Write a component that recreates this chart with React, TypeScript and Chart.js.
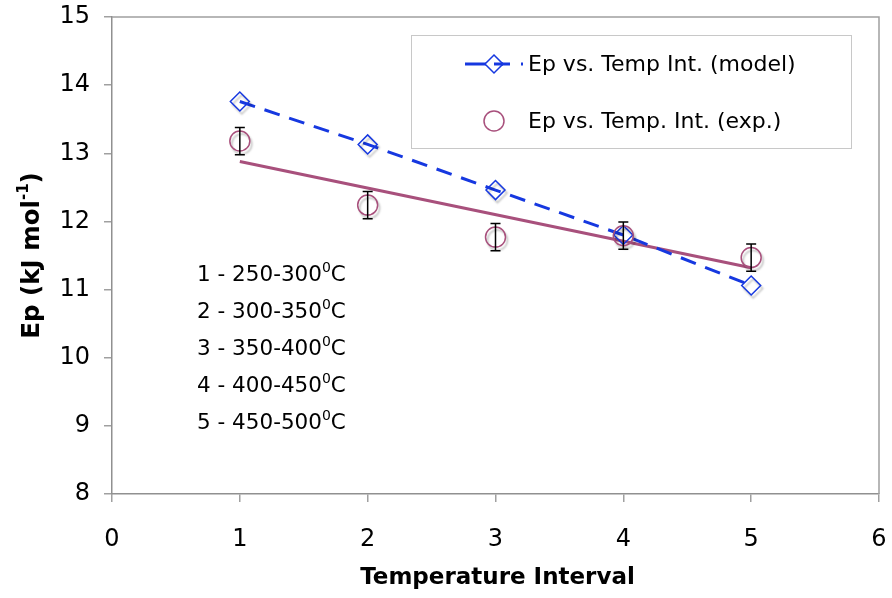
import React, { useEffect, useRef } from "react";
import { Chart, registerables } from "chart.js";

Chart.register(...registerables);

const intervals = [1, 2, 3, 4, 5];
const modelEp = [13.76, 13.13, 12.46, 11.8, 11.06];
const expEp = [13.18, 12.24, 11.77, 11.79, 11.47];
const expErr = [0.2, 0.2, 0.2, 0.2, 0.2];
const trendX = [1, 5];
const trendEp = [12.88, 11.32];
const intervalNotes = ["1 - 250-300", "2 - 300-350", "3 - 350-400", "4 - 400-450", "5 - 450-500"];
const legendLabels = ["Ep vs. Temp Int. (model)", "Ep vs. Temp. Int. (exp.)"];
const xTitle = "Temperature Interval";
const yTitleMain = "Ep (kJ mol";
const yTitleSup = "-1";

const BLUE = "#1638e0";
const MAUVE = "#a8507c";
const FONT = "'DejaVu Sans', Verdana, sans-serif";

const zeroPad = (s: any) => {
  s.paddingTop = 0;
  s.paddingBottom = 0;
  s.paddingLeft = 0;
  s.paddingRight = 0;
};

const decorPlugin = {
  id: "decor",
  beforeDatasetDraw(chart: any, args: any) {
    const ds = chart.data.datasets[args.index];
    if (ds._shadow) {
      const ctx = chart.ctx;
      ctx.save();
      ctx.shadowColor = "rgba(0,0,0,0.25)";
      ctx.shadowOffsetX = 2;
      ctx.shadowOffsetY = 3;
      ctx.shadowBlur = 2;
    }
  },
  afterDatasetDraw(chart: any, args: any) {
    const ds = chart.data.datasets[args.index];
    if (ds._shadow) chart.ctx.restore();
  },
  afterDatasetsDraw(chart: any) {
    const ctx = chart.ctx;
    const xs = chart.scales.x;
    const ys = chart.scales.y;
    ctx.save();
    ctx.strokeStyle = "#000";
    ctx.lineWidth = 1.5;
    intervals.forEach((xv, i) => {
      const px = xs.getPixelForValue(xv);
      const top = ys.getPixelForValue(expEp[i] + expErr[i]);
      const bot = ys.getPixelForValue(expEp[i] - expErr[i]);
      ctx.beginPath();
      ctx.moveTo(px, top);
      ctx.lineTo(px, bot);
      ctx.moveTo(px - 5, top);
      ctx.lineTo(px + 5, top);
      ctx.moveTo(px - 5, bot);
      ctx.lineTo(px + 5, bot);
      ctx.stroke();
    });
    ctx.restore();
  },
  afterDraw(chart: any) {
    const ctx = chart.ctx;
    const a = chart.chartArea;
    ctx.save();
    ctx.strokeStyle = "#a0a0a0";
    ctx.lineWidth = 1.5;
    ctx.beginPath();
    ctx.moveTo(a.left, a.top);
    ctx.lineTo(a.right, a.top);
    ctx.lineTo(a.right, a.bottom);
    ctx.stroke();

    const lx = 411, ly = 35, lw = 440, lh = 113;
    ctx.fillStyle = "#fff";
    ctx.fillRect(lx, ly, lw, lh);
    ctx.strokeStyle = "#c8c8c8";
    ctx.lineWidth = 1;
    ctx.strokeRect(lx + 0.5, ly + 0.5, lw, lh);

    const y1 = 64, y2 = 121, mx = 494;
    ctx.strokeStyle = BLUE;
    ctx.lineWidth = 3;
    ctx.setLineDash([45, 11]);
    ctx.beginPath();
    ctx.moveTo(465, y1);
    ctx.lineTo(523, y1);
    ctx.stroke();
    ctx.setLineDash([]);
    ctx.lineWidth = 1.5;
    ctx.beginPath();
    ctx.moveTo(mx, y1 - 9);
    ctx.lineTo(mx + 9, y1);
    ctx.lineTo(mx, y1 + 9);
    ctx.lineTo(mx - 9, y1);
    ctx.closePath();
    ctx.fillStyle = "#fff";
    ctx.fill();
    ctx.stroke();
    ctx.beginPath();
    ctx.moveTo(mx, y1);
    ctx.lineTo(mx + 9, y1);
    ctx.lineWidth = 3;
    ctx.stroke();

    ctx.strokeStyle = MAUVE;
    ctx.lineWidth = 1.5;
    ctx.beginPath();
    ctx.arc(mx, y2, 10, 0, Math.PI * 2);
    ctx.stroke();

    ctx.fillStyle = "#000";
    ctx.font = `22px ${FONT}`;
    ctx.textBaseline = "middle";
    ctx.textAlign = "left";
    ctx.fillText(legendLabels[0], 528, y1 + 1);
    ctx.fillText(legendLabels[1], 528, y2 + 1);

    ctx.textBaseline = "alphabetic";
    intervalNotes.forEach((t, i) => {
      const by = 281 + i * 37;
      let x = 197;
      ctx.font = `21.5px ${FONT}`;
      ctx.fillText(t, x, by);
      x += ctx.measureText(t).width;
      ctx.font = `14px ${FONT}`;
      ctx.fillText("0", x, by - 9);
      x += ctx.measureText("0").width;
      ctx.font = `21.5px ${FONT}`;
      ctx.fillText("C", x, by);
    });

    ctx.font = `bold 23px ${FONT}`;
    ctx.textAlign = "center";
    ctx.textBaseline = "middle";
    ctx.fillText(xTitle, (a.left + a.right) / 2 + 2, 578);

    ctx.save();
    ctx.translate(33, (a.top + a.bottom) / 2);
    ctx.rotate(-Math.PI / 2);
    ctx.textAlign = "left";
    ctx.textBaseline = "middle";
    ctx.font = `bold 24.5px ${FONT}`;
    const w1 = ctx.measureText(yTitleMain).width;
    ctx.font = `bold 15px ${FONT}`;
    const w2 = ctx.measureText(yTitleSup).width;
    ctx.font = `bold 24.5px ${FONT}`;
    const w3 = ctx.measureText(")").width;
    let sx = -(w1 + w2 + w3) / 2;
    ctx.fillText(yTitleMain, sx, 0);
    sx += w1;
    ctx.font = `bold 15px ${FONT}`;
    ctx.fillText(yTitleSup, sx, -9);
    sx += w2;
    ctx.font = `bold 24.5px ${FONT}`;
    ctx.fillText(")", sx, 0);
    ctx.restore();

    ctx.restore();
  },
};

export default function App() {
  const ref = useRef<HTMLCanvasElement>(null);
  useEffect(() => {
    const canvas = ref.current;
    if (!canvas) return;
    const chart = new Chart(canvas, {
      type: "scatter",
      data: {
        datasets: [
          {
            label: "exp points",
            data: intervals.map((x, i) => ({ x, y: expEp[i] })),
            showLine: false,
            pointStyle: "circle",
            pointRadius: 10,
            pointBorderWidth: 1.5,
            pointBorderColor: MAUVE,
            pointBackgroundColor: "rgba(0,0,0,0)",
            order: 1,
            _shadow: true,
          } as any,
          {
            label: "model points",
            data: intervals.map((x, i) => ({ x, y: modelEp[i] })),
            showLine: false,
            pointStyle: "rectRot",
            pointRadius: 9.5,
            pointBorderWidth: 1.5,
            pointBorderColor: BLUE,
            pointBackgroundColor: "rgba(0,0,0,0)",
            order: 2,
            _shadow: true,
          } as any,
          {
            label: "model line",
            data: intervals.map((x, i) => ({ x, y: modelEp[i] })),
            showLine: true,
            borderColor: BLUE,
            borderWidth: 3,
            borderDash: [16, 10],
            pointRadius: 0,
            tension: 0,
            order: 3,
          },
          {
            label: "trend",
            data: trendX.map((x, i) => ({ x, y: trendEp[i] })),
            showLine: true,
            borderColor: MAUVE,
            borderWidth: 3,
            pointRadius: 0,
            tension: 0,
            order: 4,
          },
        ],
      },
      options: {
        responsive: false,
        maintainAspectRatio: false,
        animation: false,
        layout: { padding: { top: 17, right: 13, left: 0, bottom: 0 } },
        plugins: { legend: { display: false }, tooltip: { enabled: false } },
        scales: {
          x: {
            type: "linear",
            min: 0,
            max: 6,
            ticks: { stepSize: 1, color: "#000", font: { family: FONT, size: 24 }, padding: 23 },
            grid: { drawOnChartArea: false, tickLength: 8, color: "#a0a0a0", lineWidth: 1.5 },
            border: { color: "#909090", width: 1.5 },
            afterFit: (s: any) => {
              s.height = 104;
              zeroPad(s);
            },
          },
          y: {
            min: 8,
            max: 15,
            ticks: { stepSize: 1, color: "#000", font: { family: FONT, size: 24 }, padding: 14 },
            grid: { drawOnChartArea: false, tickLength: 8, color: "#a0a0a0", lineWidth: 1.5 },
            border: { color: "#909090", width: 1.5 },
            afterFit: (s: any) => {
              s.width = 112;
              zeroPad(s);
            },
          },
        },
      },
      plugins: [decorPlugin],
    });
    return () => chart.destroy();
  }, []);
  return (
    <div style={{ position: "absolute", left: 0, top: 0, width: 892, height: 598, background: "#fff" }}>
      <canvas ref={ref} width={892} height={598} />
    </div>
  );
}
